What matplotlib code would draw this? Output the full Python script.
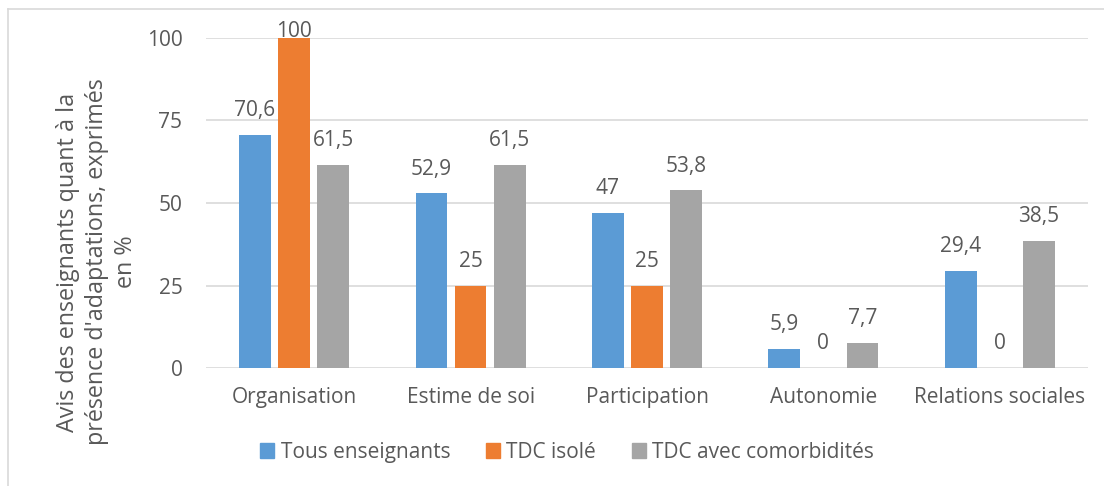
import numpy as np
import matplotlib.pyplot as plt
from matplotlib.lines import Line2D

# data
categories = ["Organisation", "Estime de soi", "Participation", "Autonomie", "Relations sociales"]
tous = [70.6, 52.9, 47, 5.9, 29.4]
tdc_isole = [100, 25, 25, 0, 0]
tdc_comorb = [61.5, 61.5, 53.8, 7.7, 38.5]
series_names = ["Tous enseignants", "TDC isolé", "TDC avec comorbidités"]
colors = ["#5B9BD5", "#ED7D31", "#A5A5A5"]
yticks = [0, 25, 50, 75, 100]

plt.rcParams['font.family'] = ['Open Sans', 'DejaVu Sans']
text_color = "#595959"
fs = 15

fig = plt.figure(figsize=(11.04, 4.86), dpi=100)
ax = fig.add_axes([206 / 1104, 1 - 368 / 486, 882 / 1104, 330 / 486])

x = np.arange(len(categories))
width = 0.18
step = 0.222

for i, (vals, name, col) in enumerate(zip([tous, tdc_isole, tdc_comorb], series_names, colors)):
    pos = x + (i - 1) * step
    bars = ax.bar(pos, vals, width, color=col, label=name, zorder=3)
    for b, v in zip(bars, vals):
        lbl = f"{v:g}".replace(".", ",")
        # labels sit above the bar, but are kept inside the plot area at the top
        off = 13.5 if v < 95 else 1
        ax.annotate(lbl, (b.get_x() + b.get_width() / 2, v), xytext=(0, off),
                    textcoords="offset points", ha="center", va="baseline",
                    fontsize=fs, color=text_color, zorder=4, annotation_clip=False)

ax.set_xlim(-0.5, len(categories) - 0.5)
ax.set_ylim(0, 100)
ax.set_yticks(yticks)
ax.set_xticks(x)
ax.set_xticklabels(categories)
ax.tick_params(axis="both", length=0, labelsize=fs, colors=text_color)
ax.tick_params(axis="y", pad=17)
ax.tick_params(axis="x", pad=14)
ax.grid(axis="y", color="#D9D9D9", linewidth=1.2, zorder=0)
for s in ax.spines.values():
    s.set_visible(False)

fig.text(97 / 1104, 1 - 262 / 486,
         "Avis des enseignants quant à la\nprésence d'adaptations, exprimés\nen %",
         rotation=90, ha="center", va="center", fontsize=16.8, color=text_color,
         linespacing=1.3)

handles = [plt.Rectangle((0, 0), 1, 1, color=c) for c in colors]
fig.legend(handles, series_names, loc="center", bbox_to_anchor=(567 / 1104, 1 - 452 / 486),
           ncol=3, frameon=False, fontsize=fs, labelcolor=text_color,
           handlelength=0.7, handleheight=0.7, handletextpad=0.3, columnspacing=1.7)

# outer chart border (top and left visible)
fig.add_artist(Line2D([8 / 1104, 1.0], [1 - 9 / 486, 1 - 9 / 486], color="#D9D9D9", linewidth=1.2))
fig.add_artist(Line2D([8 / 1104, 8 / 1104], [0, 1 - 9 / 486], color="#D9D9D9", linewidth=1.2))

fig.savefig("out.png", dpi=100)
